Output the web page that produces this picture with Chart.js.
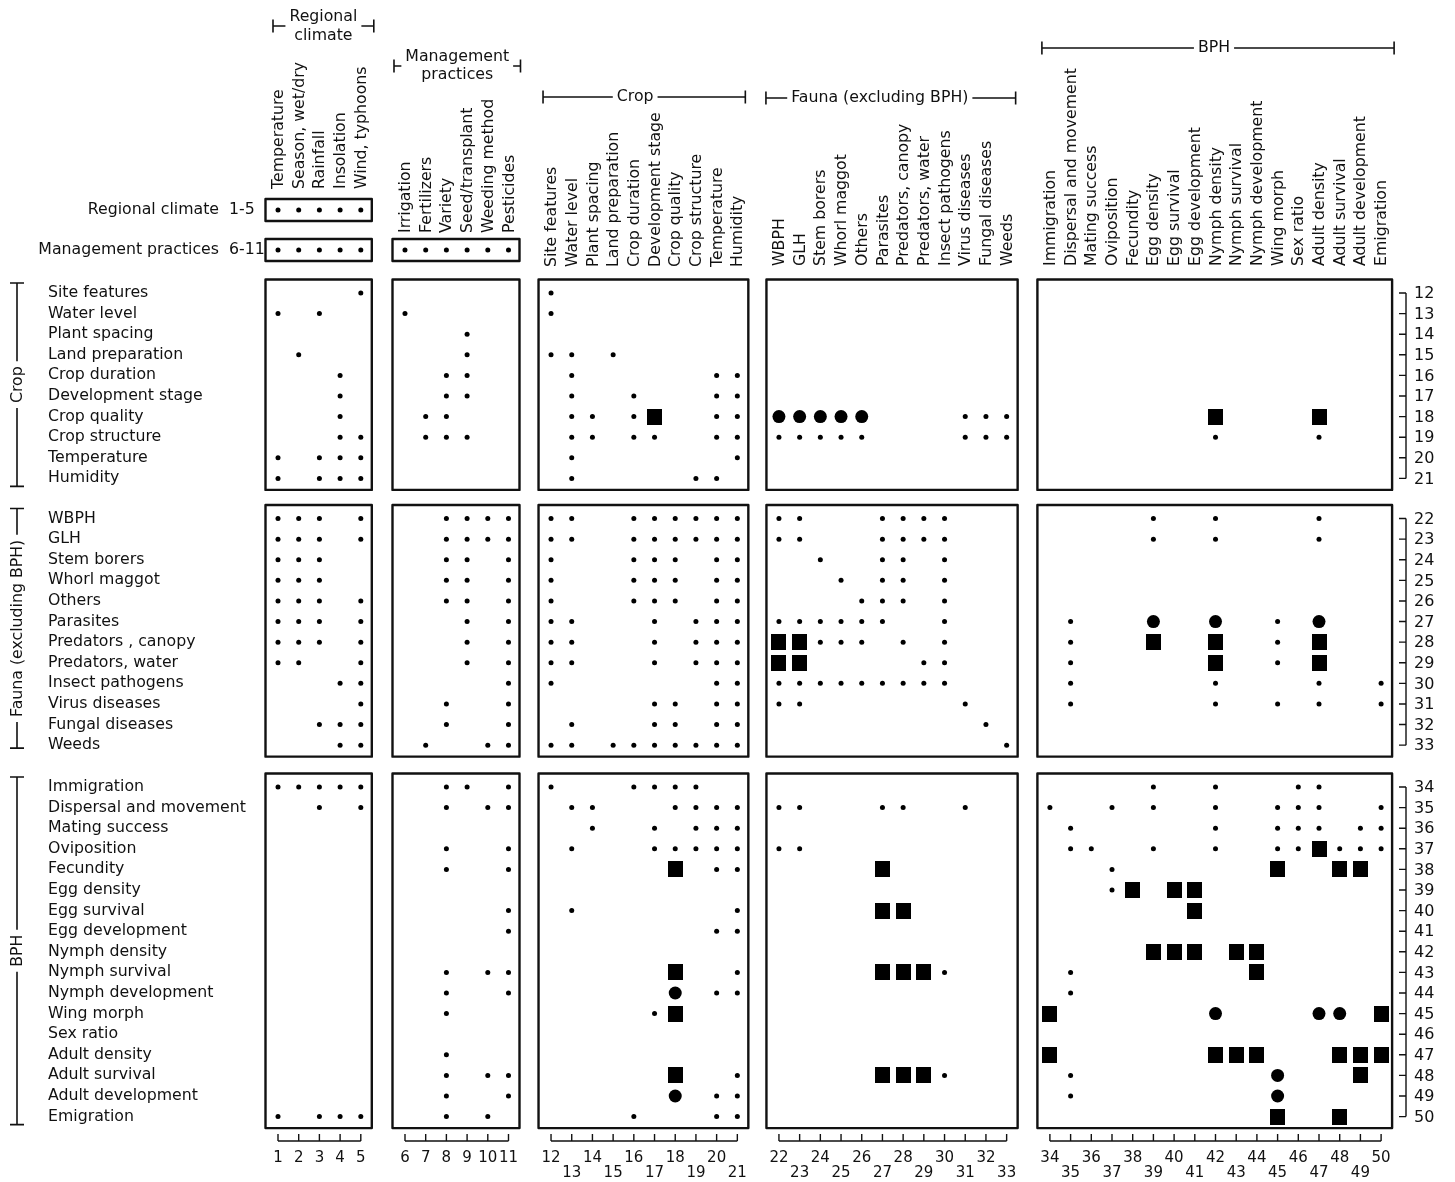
<!DOCTYPE html>
<html>
<head>
<meta charset="utf-8">
<script src="https://cdn.jsdelivr.net/npm/chart.js@4.4.0/dist/chart.umd.min.js"></script>
<style>
  html, body { margin: 0; padding: 0; background: #ffffff; }
  canvas { display: block; }
</style>
</head>
<body>
<canvas id="matrix" width="1455" height="1182"></canvas>
<script>
// ---- Factors, numbered 1-50 (columns); rows 12-50 use the same names ----
const factorNames = [
  'Temperature', 'Season, wet/dry', 'Rainfall', 'Insolation', 'Wind, typhoons',
  'Irrigation', 'Fertilizers', 'Variety', 'Seed/transplant', 'Weeding method', 'Pesticides',
  'Site features', 'Water level', 'Plant spacing', 'Land preparation', 'Crop duration',
  'Development stage', 'Crop quality', 'Crop structure', 'Temperature', 'Humidity',
  'WBPH', 'GLH', 'Stem borers', 'Whorl maggot', 'Others', 'Parasites', 'Predators, canopy',
  'Predators, water', 'Insect pathogens', 'Virus diseases', 'Fungal diseases', 'Weeds',
  'Immigration', 'Dispersal and movement', 'Mating success', 'Oviposition', 'Fecundity',
  'Egg density', 'Egg survival', 'Egg development', 'Nymph density', 'Nymph survival',
  'Nymph development', 'Wing morph', 'Sex ratio', 'Adult density', 'Adult survival',
  'Adult development', 'Emigration'
];

const rowLabels = factorNames.map(n => n.replace('Predators, canopy', 'Predators , canopy'));

const columnGroups = [
  { title: ['Regional', 'climate'], first: 1, last: 5 },
  { title: ['Management', 'practices'], first: 6, last: 11 },
  { title: ['Crop'], first: 12, last: 21 },
  { title: ['Fauna (excluding BPH)'], first: 22, last: 33 },
  { title: ['BPH'], first: 34, last: 50 }
];

const rowGroups = [
  { title: 'Crop', first: 12, last: 21 },
  { title: 'Fauna (excluding BPH)', first: 22, last: 33 },
  { title: 'BPH', first: 34, last: 50 }
];

// Summary rows drawn above the matrix: key, label, number of column blocks they span
const summaryRows = [
  { key: '1-5', label: 'Regional climate', blocks: 1 },
  { key: '6-11', label: 'Management practices', blocks: 2 }
];

// ---- Interactions: [row, [columns]] ----
const minorEffects = [
  ['1-5',  [1, 2, 3, 4, 5]],
  ['6-11', [1, 2, 3, 4, 5, 6, 7, 8, 9, 10, 11]],
  [12, [5, 12]],
  [13, [1, 3, 6, 12]],
  [14, [9]],
  [15, [2, 9, 12, 13, 15]],
  [16, [4, 8, 9, 13, 20, 21]],
  [17, [4, 8, 9, 13, 16, 20, 21]],
  [18, [4, 7, 8, 13, 14, 16, 20, 21, 31, 32, 33]],
  [19, [4, 5, 7, 8, 9, 13, 14, 16, 17, 20, 21, 22, 23, 24, 25, 26, 31, 32, 33, 42, 47]],
  [20, [1, 3, 4, 5, 13, 21]],
  [21, [1, 3, 4, 5, 13, 19, 20]],
  [22, [1, 2, 3, 5, 8, 9, 10, 11, 12, 13, 16, 17, 18, 19, 20, 21, 22, 23, 27, 28, 29, 30, 39, 42, 47]],
  [23, [1, 2, 3, 5, 8, 9, 10, 11, 12, 13, 16, 17, 18, 19, 20, 21, 22, 23, 27, 28, 29, 30, 39, 42, 47]],
  [24, [1, 2, 3, 8, 9, 11, 12, 16, 17, 18, 20, 21, 24, 27, 28, 30]],
  [25, [1, 2, 3, 8, 9, 11, 12, 16, 17, 18, 20, 21, 25, 27, 28, 30]],
  [26, [1, 2, 3, 5, 8, 9, 11, 12, 16, 17, 18, 20, 21, 26, 27, 28, 30]],
  [27, [1, 2, 3, 5, 9, 11, 12, 13, 17, 19, 20, 21, 22, 23, 24, 25, 26, 27, 30, 35, 45]],
  [28, [1, 2, 3, 5, 9, 11, 12, 13, 17, 19, 20, 21, 24, 25, 26, 28, 30, 35, 45]],
  [29, [1, 2, 5, 9, 11, 12, 13, 17, 19, 20, 21, 29, 30, 35, 45]],
  [30, [4, 5, 11, 12, 20, 21, 22, 23, 24, 25, 26, 27, 28, 29, 30, 35, 42, 47, 50]],
  [31, [5, 8, 11, 17, 18, 20, 21, 22, 23, 31, 35, 42, 45, 47, 50]],
  [32, [3, 4, 5, 8, 11, 13, 17, 18, 20, 21, 32]],
  [33, [4, 5, 7, 10, 11, 12, 13, 15, 16, 17, 18, 19, 20, 21, 33]],
  [34, [1, 2, 3, 4, 5, 8, 9, 11, 12, 16, 17, 18, 19, 39, 42, 46, 47]],
  [35, [3, 5, 8, 10, 11, 13, 14, 18, 19, 20, 21, 22, 23, 27, 28, 31, 34, 37, 39, 42, 45, 46, 47, 50]],
  [36, [14, 17, 19, 20, 21, 35, 42, 45, 46, 47, 49, 50]],
  [37, [8, 11, 13, 17, 18, 19, 20, 21, 22, 23, 35, 36, 39, 42, 45, 46, 48, 49, 50]],
  [38, [8, 11, 20, 21, 37]],
  [39, [37]],
  [40, [11, 13, 21]],
  [41, [11, 20, 21]],
  [43, [8, 10, 11, 21, 30, 35]],
  [44, [8, 11, 20, 21, 35]],
  [45, [8, 17]],
  [47, [8]],
  [48, [8, 10, 11, 21, 30, 35]],
  [49, [8, 11, 20, 21, 35]],
  [50, [1, 3, 4, 5, 8, 10, 16, 20, 21]]
];

const moderateEffects = [
  [18, [22, 23, 24, 25, 26]],
  [27, [39, 42, 47]],
  [44, [18]],
  [45, [42, 47, 48]],
  [48, [45]],
  [49, [18, 45]]
];

const majorEffects = [
  [18, [17, 42, 47]],
  [28, [22, 23, 39, 42, 47]],
  [29, [22, 23, 42, 47]],
  [37, [47]],
  [38, [18, 27, 45, 48, 49]],
  [39, [38, 40, 41]],
  [40, [27, 28, 41]],
  [42, [39, 40, 41, 43, 44]],
  [43, [18, 27, 28, 29, 44]],
  [45, [18, 34, 50]],
  [47, [34, 42, 43, 44, 48, 49, 50]],
  [48, [18, 27, 28, 29, 49]],
  [50, [45, 48]]
];

// ---- Layout ----
const FONT = '"DejaVu Sans", sans-serif';
const INK = '#111111';
const X_UNIT = 20.7, X_FIRST_PX = 278;       // pixel of column 1
const Y_UNIT = 20.6, Y_FIRST_PX = 293;       // pixel of row 12
const X_GAP = [0, 1.135, 2.19, 3.2, 4.29];   // extra spacing before each column block
const Y_GAP = [0, 0.95, 1.98];               // extra spacing before each row block
const SUMMARY_Y = { '1-5': 7.97, '6-11': 9.91 };
const HEADER_BASE = [189, 233, 267, 266, 266];
const BRACKETS = [
  { y: 26, padL: 5,  padR: 13, lineY: [17, 36], shift: 0 },
  { y: 66, padL: 11, padR: 12, lineY: [57, 75], shift: 0 },
  { y: 97, padL: 8,  padR: 8,  lineY: [97],     shift: -9 },
  { y: 98, padL: 13, padR: 9,  lineY: [98],     shift: -11 },
  { y: 48, padL: 8,  padR: 13, lineY: [48],     shift: -4 }
];

function blockOfColumn(col) {
  return columnGroups.findIndex(g => col >= g.first && col <= g.last);
}
function xOf(col) { return col + X_GAP[blockOfColumn(col)]; }
function yOf(row) {
  if (typeof row === 'string') return SUMMARY_Y[row];
  const g = rowGroups.findIndex(r => row >= r.first && row <= r.last);
  return row + Y_GAP[g];
}
function toPoints(list) {
  const pts = [];
  list.forEach(([row, cols]) => cols.forEach(c => pts.push({ x: xOf(c), y: yOf(row) })));
  return pts;
}

// Filled square glyph for the strongest interactions
const squareGlyph = document.createElement('canvas');
squareGlyph.width = 15; squareGlyph.height = 16;
(function () {
  const g = squareGlyph.getContext('2d');
  g.fillStyle = '#000';
  g.fillRect(0, 0, 15, 16);
})();

const xMin = 1 - X_FIRST_PX / X_UNIT;
const yMin = 12 - Y_FIRST_PX / Y_UNIT;

const matrixFrame = {
  id: 'matrixFrame',
  beforeDatasetsDraw(chart) {
    const { ctx, scales: { x, y } } = chart;
    const px = c => x.getPixelForValue(xOf(c));
    const py = r => y.getPixelForValue(yOf(r));
    ctx.save();
    ctx.fillStyle = INK;
    ctx.strokeStyle = INK;
    ctx.lineJoin = 'round';
    ctx.lineCap = 'butt';

    // Panels
    ctx.lineWidth = 2.4;
    const blockX = g => [px(g.first) - 12.5, px(g.last) + 11];
    summaryRows.forEach(s => {
      const c = py(s.key);
      for (let i = 0; i < s.blocks; i++) {
        const [l, r] = blockX(columnGroups[i]);
        ctx.strokeRect(l, c - 11, r - l, 22);
      }
    });
    rowGroups.forEach(rg => {
      const t = py(rg.first) - 13.5, b = py(rg.last) + 11.5;
      columnGroups.forEach(cg => {
        const [l, r] = blockX(cg);
        ctx.strokeRect(l, t, r - l, b - t);
      });
    });

    // Column headings (vertical)
    ctx.font = `15.75px ${FONT}`;
    columnGroups.forEach((cg, gi) => {
      for (let c = cg.first; c <= cg.last; c++) {
        ctx.save();
        ctx.translate(px(c) + 1, HEADER_BASE[gi]);
        ctx.rotate(-Math.PI / 2);
        ctx.textAlign = 'left';
        ctx.textBaseline = 'middle';
        ctx.fillText(factorNames[c - 1], 0, 0);
        ctx.restore();
      }
    });

    // Column block brackets
    ctx.lineWidth = 1.6;
    columnGroups.forEach((cg, gi) => {
      const br = BRACKETS[gi];
      const l = px(cg.first) - br.padL, r = px(cg.last) + br.padR;
      const mid = (l + r) / 2 + br.shift;
      ctx.textAlign = 'center';
      ctx.textBaseline = 'middle';
      cg.title.forEach((t, i) => ctx.fillText(t, mid, br.lineY[i]));
      const w = ctx.measureText(cg.title[0]).width;
      ctx.beginPath();
      ctx.moveTo(l, br.y - 6.5); ctx.lineTo(l, br.y + 6.5);
      ctx.moveTo(r, br.y - 6.5); ctx.lineTo(r, br.y + 6.5);
      ctx.moveTo(l, br.y); ctx.lineTo(mid - w / 2 - 4, br.y);
      ctx.moveTo(mid + w / 2 + 4, br.y); ctx.lineTo(r, br.y);
      ctx.stroke();
    });

    // Row labels
    ctx.textAlign = 'left';
    ctx.textBaseline = 'middle';
    rowGroups.forEach(rg => {
      for (let r = rg.first; r <= rg.last; r++) ctx.fillText(rowLabels[r - 1], 48, py(r));
    });
    summaryRows.forEach(s => {
      ctx.textAlign = 'right';
      ctx.fillText(s.label, 219, py(s.key));
      ctx.textAlign = 'left';
      ctx.fillText(s.key, 229, py(s.key));
    });

    // Row block brackets on the left
    const bottomPad = [8, 3, 8];
    rowGroups.forEach((rg, gi) => {
      const t = py(rg.first) - 10, b = py(rg.last) + bottomPad[gi];
      const mid = (t + b) / 2;
      const w = ctx.measureText(rg.title).width;
      ctx.beginPath();
      ctx.moveTo(10, t); ctx.lineTo(24, t);
      ctx.moveTo(10, b); ctx.lineTo(24, b);
      ctx.moveTo(17, t); ctx.lineTo(17, mid - w / 2 - 5);
      ctx.moveTo(17, mid + w / 2 + 5); ctx.lineTo(17, b);
      ctx.stroke();
      ctx.save();
      ctx.translate(18, mid);
      ctx.rotate(-Math.PI / 2);
      ctx.textAlign = 'center';
      ctx.textBaseline = 'middle';
      ctx.fillText(rg.title, 0, 0);
      ctx.restore();
    });

    // Row number ruler on the right
    ctx.lineWidth = 1.4;
    ctx.font = `16px ${FONT}`;
    const rx = 1406;
    rowGroups.forEach(rg => {
      ctx.beginPath();
      ctx.moveTo(rx, py(rg.first)); ctx.lineTo(rx, py(rg.last));
      for (let r = rg.first; r <= rg.last; r++) {
        ctx.moveTo(rx - 7, py(r)); ctx.lineTo(rx, py(r));
      }
      ctx.stroke();
      ctx.textAlign = 'left';
      ctx.textBaseline = 'middle';
      for (let r = rg.first; r <= rg.last; r++) ctx.fillText(String(r), rx + 8, py(r) + 1);
    });

    // Column number ruler along the bottom
    ctx.font = `15px ${FONT}`;
    const by = 1141;
    columnGroups.forEach((cg, gi) => {
      ctx.beginPath();
      ctx.moveTo(px(cg.first), by); ctx.lineTo(px(cg.last), by);
      for (let c = cg.first; c <= cg.last; c++) {
        ctx.moveTo(px(c), by - 7); ctx.lineTo(px(c), by);
      }
      ctx.stroke();
      ctx.textAlign = 'center';
      ctx.textBaseline = 'middle';
      for (let c = cg.first; c <= cg.last; c++) {
        const staggered = gi >= 2 && (c - cg.first) % 2 === 1;
        ctx.fillText(String(c), px(c), staggered ? 1173 : 1158);
      }
    });

    ctx.restore();
  }
};

new Chart(document.getElementById('matrix'), {
  type: 'scatter',
  data: {
    datasets: [
      { label: 'minor', data: toPoints(minorEffects), pointStyle: 'circle',
        pointRadius: 2.5, backgroundColor: '#000', borderWidth: 0 },
      { label: 'moderate', data: toPoints(moderateEffects), pointStyle: 'circle',
        pointRadius: 6.5, backgroundColor: '#000', borderWidth: 0 },
      { label: 'major', data: toPoints(majorEffects), pointStyle: squareGlyph,
        pointRadius: 8, backgroundColor: '#000', borderWidth: 0 }
    ]
  },
  options: {
    responsive: false,
    animation: false,
    devicePixelRatio: 1,
    events: [],
    layout: { padding: 0, autoPadding: false },
    plugins: { legend: { display: false }, tooltip: { enabled: false } },
    scales: {
      x: { type: 'linear', display: false, bounds: 'data',
           min: xMin, max: xMin + 1455 / X_UNIT },
      y: { type: 'linear', display: false, bounds: 'data', reverse: true,
           min: yMin, max: yMin + 1182 / Y_UNIT }
    }
  },
  plugins: [matrixFrame]
});
</script>
</body>
</html>
